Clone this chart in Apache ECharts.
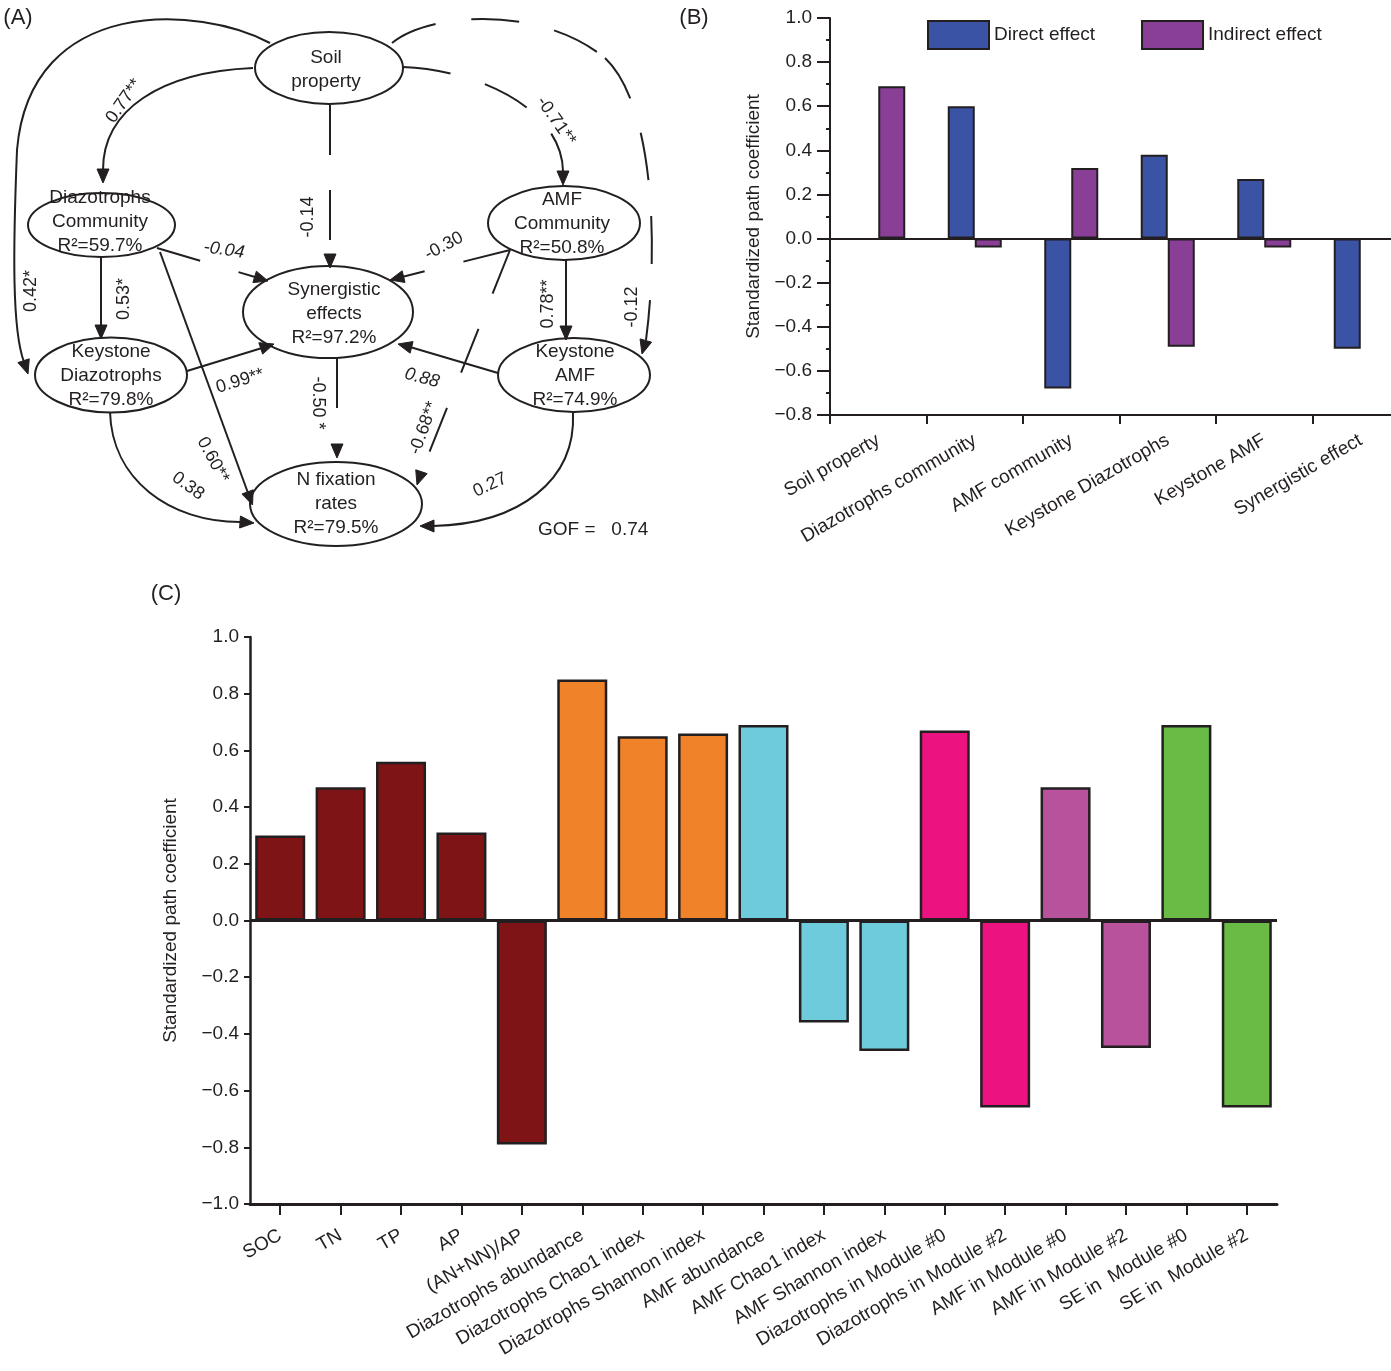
<!DOCTYPE html>
<html><head><meta charset="utf-8">
<script src="https://cdn.jsdelivr.net/npm/echarts@6/dist/echarts.min.js"></script>
<style>html,body{margin:0;padding:0;background:#fff}#c{width:1391px;height:1371px}</style>
</head><body><div id="c"></div>
<script>
// ---------- DATA ----------
// Panel B
const bCategories = ['Soil property','Diazotrophs community','AMF community','Keystone Diazotrophs','Keystone AMF','Synergistic effect'];
const bSeriesNames = ['Direct effect','Indirect effect'];
const bDirect   = ['-', 0.60, -0.68, 0.38, 0.27, -0.50];
const bIndirect = [0.69, -0.04, 0.32, -0.49, -0.04, '-'];
// Panel C
const cCategories = ['SOC','TN','TP','AP','(AN+NN)/AP','Diazotrophs abundance','Diazotrophs Chao1 index','Diazotrophs Shannon index','AMF abundance','AMF Chao1 index','AMF Shannon index','Diazotrophs in Module #0','Diazotrophs in Module #2','AMF in Module #0','AMF in Module #2','SE in  Module #0','SE in  Module #2'];
const cValues = [0.30, 0.47, 0.56, 0.31, -0.79, 0.85, 0.65, 0.66, 0.69, -0.36, -0.46, 0.67, -0.66, 0.47, -0.45, 0.69, -0.66];
// Panel A (path model)
const semNodeIds = ['soil','diaz','amf','syn','kdiaz','kamf','nfix'];
const semNodeLabels = ['Soil\nproperty','Diazotrophs\nCommunity\nR²=59.7%','AMF\nCommunity\nR²=50.8%','Synergistic\neffects\nR²=97.2%','Keystone\nDiazotrophs\nR²=79.8%','Keystone\nAMF\nR²=74.9%','N fixation\nrates\nR²=79.5%'];
const semPathLabels = ['0.77**','0.42*','-0.14','-0.04','0.60**','0.53*','0.99**','0.38','-0.50 *','-0.71**','-0.12','-0.30','-0.68**','0.78**','0.88','0.27'];
const semFit = 'GOF =   0.74';
const panelTags = ['(A)','(B)','(C)'];

// ---------- STYLE / LAYOUT ----------
const FONT = '"Liberation Sans", Arial, Helvetica, sans-serif';
const INK = '#231f20';
const bColors = ['#3a53a4', '#8a3f97'];
const cColors = ['#7e1416','#7e1416','#7e1416','#7e1416','#7e1416',
                 '#f0832a','#f0832a','#f0832a',
                 '#6dcbdb','#6dcbdb','#6dcbdb',
                 '#ec1380','#ec1380',
                 '#b9529c','#b9529c',
                 '#6abb46','#6abb46'];

const nodeGeom = {
  soil:[329,68,74,36], diaz:[101.5,225,73.5,32], amf:[564,223,76,37],
  syn:[328,312,85,46], kdiaz:[111,375,76,37.5], kamf:[574,375,76,37], nfix:[336,504,86,42]
};
const nodeTextPos = {
  soil:[326,70], diaz:[100,222], amf:[562,224], syn:[334,314],
  kdiaz:[111,376], kamf:[575,376], nfix:[336,504]
};
// edge geometry (index matches semPathLabels)
const edgeGeom = [
  {segs:[['b',253,68,160,72,103,110,103,170]], tip:[103,183], from:[103,170], lab:[124,101,55]},
  {segs:[['b',270,43,200,5,30,-5,17,150],['b',17,150,13,250,12,330,24,362]], tip:[28,374], from:[24,362], lab:[31,291,90]},
  {segs:[['l',330,105,330,255]], dash:[50,35], tip:[330,268], from:[330,254], lab:[308,217,90]},
  {segs:[['l',157,248,255,277]], dash:[45,40], tip:[268,281], from:[255,277], lab:[224,250,-8], italic:true},
  {segs:[['l',160,252,248,493]], tip:[252.5,505], from:[248,493], lab:[213,460,-62]},
  {segs:[['l',101,257,101,326]], tip:[101,339], from:[101,326], lab:[124,299,90]},
  {segs:[['l',187,371,262,348]], tip:[274,344], from:[262,348], lab:[240,381,17]},
  {segs:[['b',110,412,112,480,170,522,240,522]], tip:[254,523], from:[240,522], lab:[188,486,-36]},
  {segs:[['l',337,358,337,445]], dash:[50,40], tip:[337,458], from:[337,445], lab:[318,403,-90]},
  {segs:[['b',403,67,480,70,562,110,563,171]], dash:[48,36], tip:[563,185], from:[563,171], lab:[556,121,-55]},
  {segs:[['b',392,43,430,12,540,5,605,58],['b',605,58,655,105,658,250,646,340]], dash:[48,36], tip:[642,354], from:[646,340], lab:[632,307,90]},
  {segs:[['l',510,250,402,277]], dash:[48,40], tip:[390,280], from:[402,277], lab:[444,246,28]},
  {segs:[['l',510,250,421,473]], dash:[47,38], tip:[417,485], from:[421,473], lab:[424,428,70]},
  {segs:[['l',566,260,566,327]], tip:[566,340], from:[566,327], lab:[548,304,90]},
  {segs:[['l',498,373,410,347]], tip:[398,344], from:[410,347], lab:[422,378,-15], italic:true},
  {segs:[['b',573,413,576,480,520,524,433,526]], tip:[420,526], from:[433,526], lab:[490,485,25]}
];

function textEl(x, y, text, opts) {
  opts = opts || {};
  return {
    type:'text', x:x, y:y, rotation:(opts.rot||0)*Math.PI/180, z:30,
    style:{
      text:text, fill:INK, fontSize:opts.size||19, fontFamily:FONT,
      fontStyle:opts.italic?'italic':'normal',
      align:opts.align||'center', verticalAlign:'middle',
      textAlign:opts.align||'center', textVerticalAlign:'middle',
      lineHeight:opts.lh||24
    }
  };
}
function arrowHead(tip, from) {
  const L = 14, W = 6;
  const dx = tip[0]-from[0], dy = tip[1]-from[1];
  const len = Math.hypot(dx, dy);
  const ux = dx/len, uy = dy/len;
  const bx = tip[0]-ux*L, by = tip[1]-uy*L;
  return {type:'polygon', z:20, shape:{points:[[tip[0],tip[1]],[bx+uy*W,by-ux*W],[bx-uy*W,by+ux*W]]}, style:{fill:INK, stroke:INK, lineWidth:1}};
}

const graphics = [];
edgeGeom.forEach(function (e, i) {
  e.segs.forEach(function (s) {
    const st = {stroke:INK, lineWidth:2, fill:'none'};
    if (e.dash) st.lineDash = e.dash;
    if (s[0] === 'l') {
      graphics.push({type:'line', z:20, shape:{x1:s[1],y1:s[2],x2:s[3],y2:s[4]}, style:st});
    } else {
      graphics.push({type:'bezierCurve', z:20, shape:{x1:s[1],y1:s[2],cpx1:s[3],cpy1:s[4],cpx2:s[5],cpy2:s[6],x2:s[7],y2:s[8]}, style:st});
    }
  });
  graphics.push(arrowHead(e.tip, e.from));
  graphics.push(textEl(e.lab[0], e.lab[1], semPathLabels[i], {rot:e.lab[2], size:18, italic:e.italic}));
});
semNodeIds.forEach(function (id, i) {
  const g = nodeGeom[id];
  graphics.push({type:'ellipse', z:22, shape:{cx:g[0],cy:g[1],rx:g[2],ry:g[3]}, style:{fill:'none', stroke:INK, lineWidth:2}});
  const t = nodeTextPos[id];
  graphics.push(textEl(t[0], t[1], semNodeLabels[i], {size:19}));
});
graphics.push(textEl(538, 530, semFit, {size:19, align:'left'}));
graphics.push(textEl(18, 18, panelTags[0], {size:22}));
graphics.push(textEl(694, 18, panelTags[1], {size:22}));
graphics.push(textEl(166, 594, panelTags[2], {size:22}));

function fmt(v) {
  const s = (Math.round(v*10)/10).toFixed(1);
  return s.replace('-', '\u2212');
}
function zeroLine(w) {
  return {silent:true, symbol:['none','none'], label:{show:false}, lineStyle:{color:INK, width:w, type:'solid'}, data:[{yAxis:0}], animation:false};
}

const chart = echarts.init(document.getElementById('c'), null, {renderer:'canvas'});
chart.setOption({
  animation:false,
  backgroundColor:'#fff',
  textStyle:{fontFamily:FONT, color:INK},
  grid:[
    {left:830, top:18, right:-18, bottom:956, outerBoundsMode:'none', containLabel:false},
    {left:250, top:637, right:114, bottom:167, outerBoundsMode:'none', containLabel:false}
  ],
  legend:{
    data:bSeriesNames, left:927, top:20, padding:0, itemWidth:61, itemHeight:28, itemGap:46,
    icon:'rect', textStyle:{fontSize:19, color:INK, fontFamily:FONT}, selectedMode:false
  },
  xAxis:[
    {gridIndex:0, type:'category', data:bCategories,
     axisLine:{show:true, onZero:false, lineStyle:{color:INK, width:2}},
     axisTick:{show:true, length:9, lineStyle:{color:INK, width:2}},
     axisLabel:{rotate:30, interval:0, fontSize:19, color:INK, margin:24, fontFamily:FONT},
     splitLine:{show:false}},
    {gridIndex:1, type:'category', data:cCategories,
     axisLine:{show:true, onZero:false, lineStyle:{color:INK, width:3}},
     axisTick:{show:true, alignWithLabel:true, length:11, lineStyle:{color:INK, width:2}},
     axisLabel:{rotate:30, interval:0, fontSize:19, color:INK, margin:30, fontFamily:FONT},
     splitLine:{show:false}}
  ],
  yAxis:[
    {gridIndex:0, type:'value', min:-0.8, max:1.0, interval:0.2,
     name:'Standardized path coefficient', nameLocation:'middle', nameGap:67,
     nameTextStyle:{fontSize:19, color:INK, fontFamily:FONT},
     axisLine:{show:true, lineStyle:{color:INK, width:2}},
     axisTick:{show:true, length:13, lineStyle:{color:INK, width:2}},
     minorTick:{show:true, splitNumber:2, length:4, lineStyle:{color:INK, width:2}},
     splitLine:{show:false}, minorSplitLine:{show:false},
     axisLabel:{fontSize:19, color:INK, margin:18, formatter:fmt, fontFamily:FONT}},
    {gridIndex:1, type:'value', min:-1.0, max:1.0, interval:0.2,
     name:'Standardized path coefficient', nameLocation:'middle', nameGap:70,
     nameTextStyle:{fontSize:19, color:INK, fontFamily:FONT},
     axisLine:{show:true, lineStyle:{color:INK, width:2.5}},
     axisTick:{show:true, length:6, lineStyle:{color:INK, width:2}},
     splitLine:{show:false},
     axisLabel:{fontSize:19, color:INK, margin:11, formatter:fmt, fontFamily:FONT}}
  ],
  series:[
    {name:bSeriesNames[0], type:'bar', xAxisIndex:0, yAxisIndex:0, data:bDirect,
     barWidth:27, barGap:'0%',
     itemStyle:{color:bColors[0], borderColor:INK, borderWidth:2},
     markLine:zeroLine(2)},
    {name:bSeriesNames[1], type:'bar', xAxisIndex:0, yAxisIndex:0, data:bIndirect,
     barWidth:27, barGap:'0%',
     itemStyle:{color:bColors[1], borderColor:INK, borderWidth:2}},
    {name:'C', type:'bar', xAxisIndex:1, yAxisIndex:1,
     data:cValues.map(function (v, i) { return {value:v, itemStyle:{color:cColors[i]}}; }),
     barWidth:50,
     itemStyle:{borderColor:INK, borderWidth:2.5},
     markLine:zeroLine(3)}
  ],
  graphic:{elements:graphics}
});
</script></body></html>
